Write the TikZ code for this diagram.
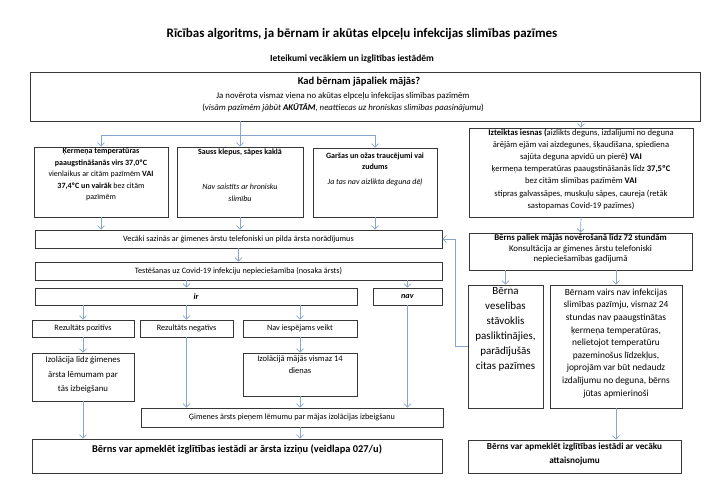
\documentclass[tikz,border=0pt]{standalone}
\usepackage{fontspec}
\setmainfont{Carlito}
\usetikzlibrary{arrows.meta,calc}
\definecolor{arrowblue}{RGB}{135,165,205}
\definecolor{boxline}{RGB}{55,55,55}
\begin{document}
\begin{tikzpicture}[x=1pt,y=-1pt,
  box/.style={draw=boxline, line width=0.9pt, inner sep=0pt, align=center, font=\fontsize{8.2}{11.5}\selectfont},
  sz/.style 2 args={minimum width=#1pt, minimum height=#2pt},
  txt/.style={inner sep=0pt, align=center, font=\fontsize{8}{11.5}\selectfont},
  arr/.style={draw=arrowblue, line width=0.7pt, -{Straight Barb[length=3.5pt,width=7pt]}},
  ln/.style={draw=arrowblue, line width=0.7pt}]
\useasboundingbox (0,0) rectangle (708,491);
\fill[white] (0,0) rectangle (708,491);

% titles
\node[font=\fontsize{13}{15}\selectfont\bfseries] (title) at (362,34) {Rīcības algoritms, ja bērnam ir akūtas elpceļu infekcijas slimības pazīmes};
\node[font=\fontsize{9.5}{11}\selectfont\bfseries] (sub) at (352,59) {Ieteikumi vecākiem un izglītības iestādēm};

% top box
\node[box, sz={670}{49}] (top) at (365,96.5) {};
\node[txt, font=\fontsize{10.5}{13}\selectfont\bfseries] (toph) at (359,82) {Kad bērnam jāpaliek mājās?};
\node[txt, font=\fontsize{8.8}{11.5}\selectfont] (topt) at (343,102) {Ja novērota vismaz viena no akūtas elpceļu infekcijas slimības pazīmēm\\(\textit{visām pazīmēm jābūt \textbf{AKŪTĀM}, neattiecas uz hroniskas slimības paasinājumu})};

% symptom boxes
\node[box, sz={134}{70}] (b1) at (101,182) {};
\node[txt, anchor=north] (b1t) at ([yshift=-2pt]b1.north) {\textbf{Ķermeņa temperatūras}\\\textbf{paaugstināšanās virs 37,0ºC}\\vienlaikus ar citām pazīmēm \textbf{VAI}\\\textbf{37,4ºC un vairāk} bez citām\\pazīmēm};
\node[box, sz={126}{70}] (b2) at (240,182) {};
\node[txt, anchor=north] (b2t) at ([yshift=-2pt]b2.north) {\textbf{Sauss klepus, sāpes kaklā}\\[24pt]\textit{Nav saistīts ar hronisku}\\\textit{slimību}};
\node[box, sz={124}{69}] (b3) at (375,182.5) {};
\node[txt, anchor=north] (b3t) at ([yshift=-5pt]b3.north) {\textbf{Garšas un ožas traucējumi vai}\\\textbf{zudums}\\[3pt]\textit{Ja tas nav aizlikta deguna dēļ}};
\node[box, sz={224}{89}] (r1) at (581,172.5) {};
\node[txt, anchor=north, font=\fontsize{8.6}{12.2}\selectfont] (r1t) at ([yshift=-1pt]r1.north) {\textbf{Izteiktas iesnas (}aizlikts deguns, izdalījumi no deguna\\ārējām ejām vai aizdegunes, šķaudīšana, spiediena\\sajūta deguna apvidū un pierē\textbf{) VAI}\\ķermeņa temperatūras paaugstināšanās līdz \textbf{37,5ºC}\\bez citām slimības pazīmēm \textbf{VAI}\\stipras galvassāpes, muskuļu sāpes, caureja (retāk\\sastopamas Covid-19 pazīmes)};

% left flow
\node[box, sz={407}{18}] (vec) at (238.5,239) {Vecāki sazinās ar ģimenes ārstu telefoniski un pilda ārsta norādījumus};
\node[box, sz={407}{18}] (test) at (238.5,271) {Testēšanas uz Covid-19 infekciju nepieciešamība (nosaka ārsts)};
\node[box, sz={322}{17}] (ir) at (196,296.5) {\textbf{\textit{ir}}};
\node[box, sz={69}{17}] (nav) at (407.5,296.5) {\textbf{\textit{nav}}};
\node[box, sz={102}{17}] (pos) at (83,328.5) {Rezultāts pozitīvs};
\node[box, sz={93}{17}] (neg) at (186.5,328.5) {Rezultāts negatīvs};
\node[box, sz={114}{17}] (nie) at (300,328.5) {Nav iespējams veikt};
\node[box, sz={102}{48}] (iso1) at (83,377) {};
\node[txt, anchor=north, font=\fontsize{8.8}{14.5}\selectfont] (iso1t) at ([yshift=-4pt]iso1.north) {Izolācija līdz ģimenes\\ārsta lēmumam par\\tās izbeigšanu};
\node[box, sz={114}{43}] (iso2) at (300,374.5) {};
\node[txt, anchor=north, font=\fontsize{8.5}{12}\selectfont] (iso2t) at ([yshift=-3pt]iso2.north) {Izolācijā mājās vismaz 14\\dienas};
\node[box, sz={302}{19}] (gim) at (292,417.5) {Ģimenes ārsts pieņem lēmumu par mājas izolācijas izbeigšanu};
\node[box, sz={410}{34}] (f1) at (237,456) {};
\node[txt, anchor=north, font=\fontsize{10.4}{12}\selectfont\bfseries] (f1t) at ([yshift=-6pt]f1.north) {Bērns var apmeklēt izglītības iestādi ar ārsta izziņu (veidlapa 027/u)};

% right flow
\node[box, sz={223}{37}] (stay) at (580.5,251.5) {};
\node[txt, anchor=north, font=\fontsize{8.8}{10.2}\selectfont] (stayt) at ([yshift=-2pt]stay.north) {\textbf{Bērns paliek mājās novērošanā līdz 72 stundām}\\Konsultācija ar ģimenes ārstu telefoniski\\nepieciešamības gadījumā};
\node[box, sz={75}{123}] (worse) at (505.5,346.5) {};
\node[txt, anchor=north, font=\fontsize{11}{15}\selectfont] (worset) at ([yshift=-3pt]worse.north) {Bērna\\veselības\\stāvoklis\\pasliktinājies,\\parādījušās\\citas pazīmes};
\node[box, sz={132}{123}] (better) at (616,346.5) {};
\node[txt, anchor=north, font=\fontsize{9.4}{12.6}\selectfont] (bettert) at ([yshift=-4pt]better.north) {Bērnam vairs nav infekcijas\\slimības pazīmju, vismaz 24\\stundas nav paaugstinātas\\ķermeņa temperatūras,\\nelietojot temperatūru\\pazeminošus līdzekļus,\\joprojām var būt nedaudz\\izdalījumu no deguna, bērns\\jūtas apmierinoši};
\node[box, sz={213}{33}] (f2) at (574.5,456.5) {};
\node[txt, anchor=north, font=\fontsize{9.2}{14}\selectfont\bfseries] (f2t) at ([yshift=-3pt]f2.north) {Bērns var apmeklēt izglītības iestādi ar vecāku\\attaisnojumu};

% helper coordinates
\coordinate (br) at (0,135);
\coordinate (loopx) at (455,0);

% connectors from top
\draw[arr] (b2.north |- top.south) -- (b2.north);
\draw[ln] (b1.north |- br) -- (b3.north |- br);
\draw[arr] (b1.north |- br) -- (b1.north);
\draw[arr] (b3.north |- br) -- (b3.north);
\draw[arr] (r1.north |- top.south) -- (r1.north);

% symptoms to parents
\draw[arr] (b1.south) -- (b1.south |- vec.north);
\draw[arr] (b2.south) -- (b2.south |- vec.north);
\draw[arr] (b3.south) -- (b3.south |- vec.north);
\draw[arr] (vec.south) -- (test.north);
\draw[arr] (neg.north |- test.south) -- (neg.north |- ir.north);
\draw[arr] (nav.north |- test.south) -- (nav.north);
\draw[arr] (pos.north |- ir.south) -- (pos.north);
\draw[arr] (neg.north |- ir.south) -- (neg.north);
\draw[arr] (nie.north |- ir.south) -- (nie.north);
\draw[arr] (pos.south) -- (iso1.north);
\draw[arr] (nie.south) -- (iso2.north);
\draw[arr] (iso1.south) -- (iso1.south |- f1.north);
\draw[arr] (neg.south) -- (neg.south |- gim.north);
\draw[arr] (iso2.south) -- (iso2.south |- gim.north);
\draw[arr] (nav.south) -- (nav.south |- gim.north);
\draw[arr] (iso2.south |- gim.south) -- (iso2.south |- f1.north);

% right side
\draw[arr] (r1.south) -- (stay.north);
\draw[arr] (worse.north |- stay.south) -- (worse.north);
\draw[arr] (better.north |- stay.south) -- (better.north);
\draw[arr] (better.south) -- (better.south |- f2.north);
\draw[arr] (worse.west) -| (loopx |- vec.east) -- (vec.east);
\end{tikzpicture}
\end{document}
